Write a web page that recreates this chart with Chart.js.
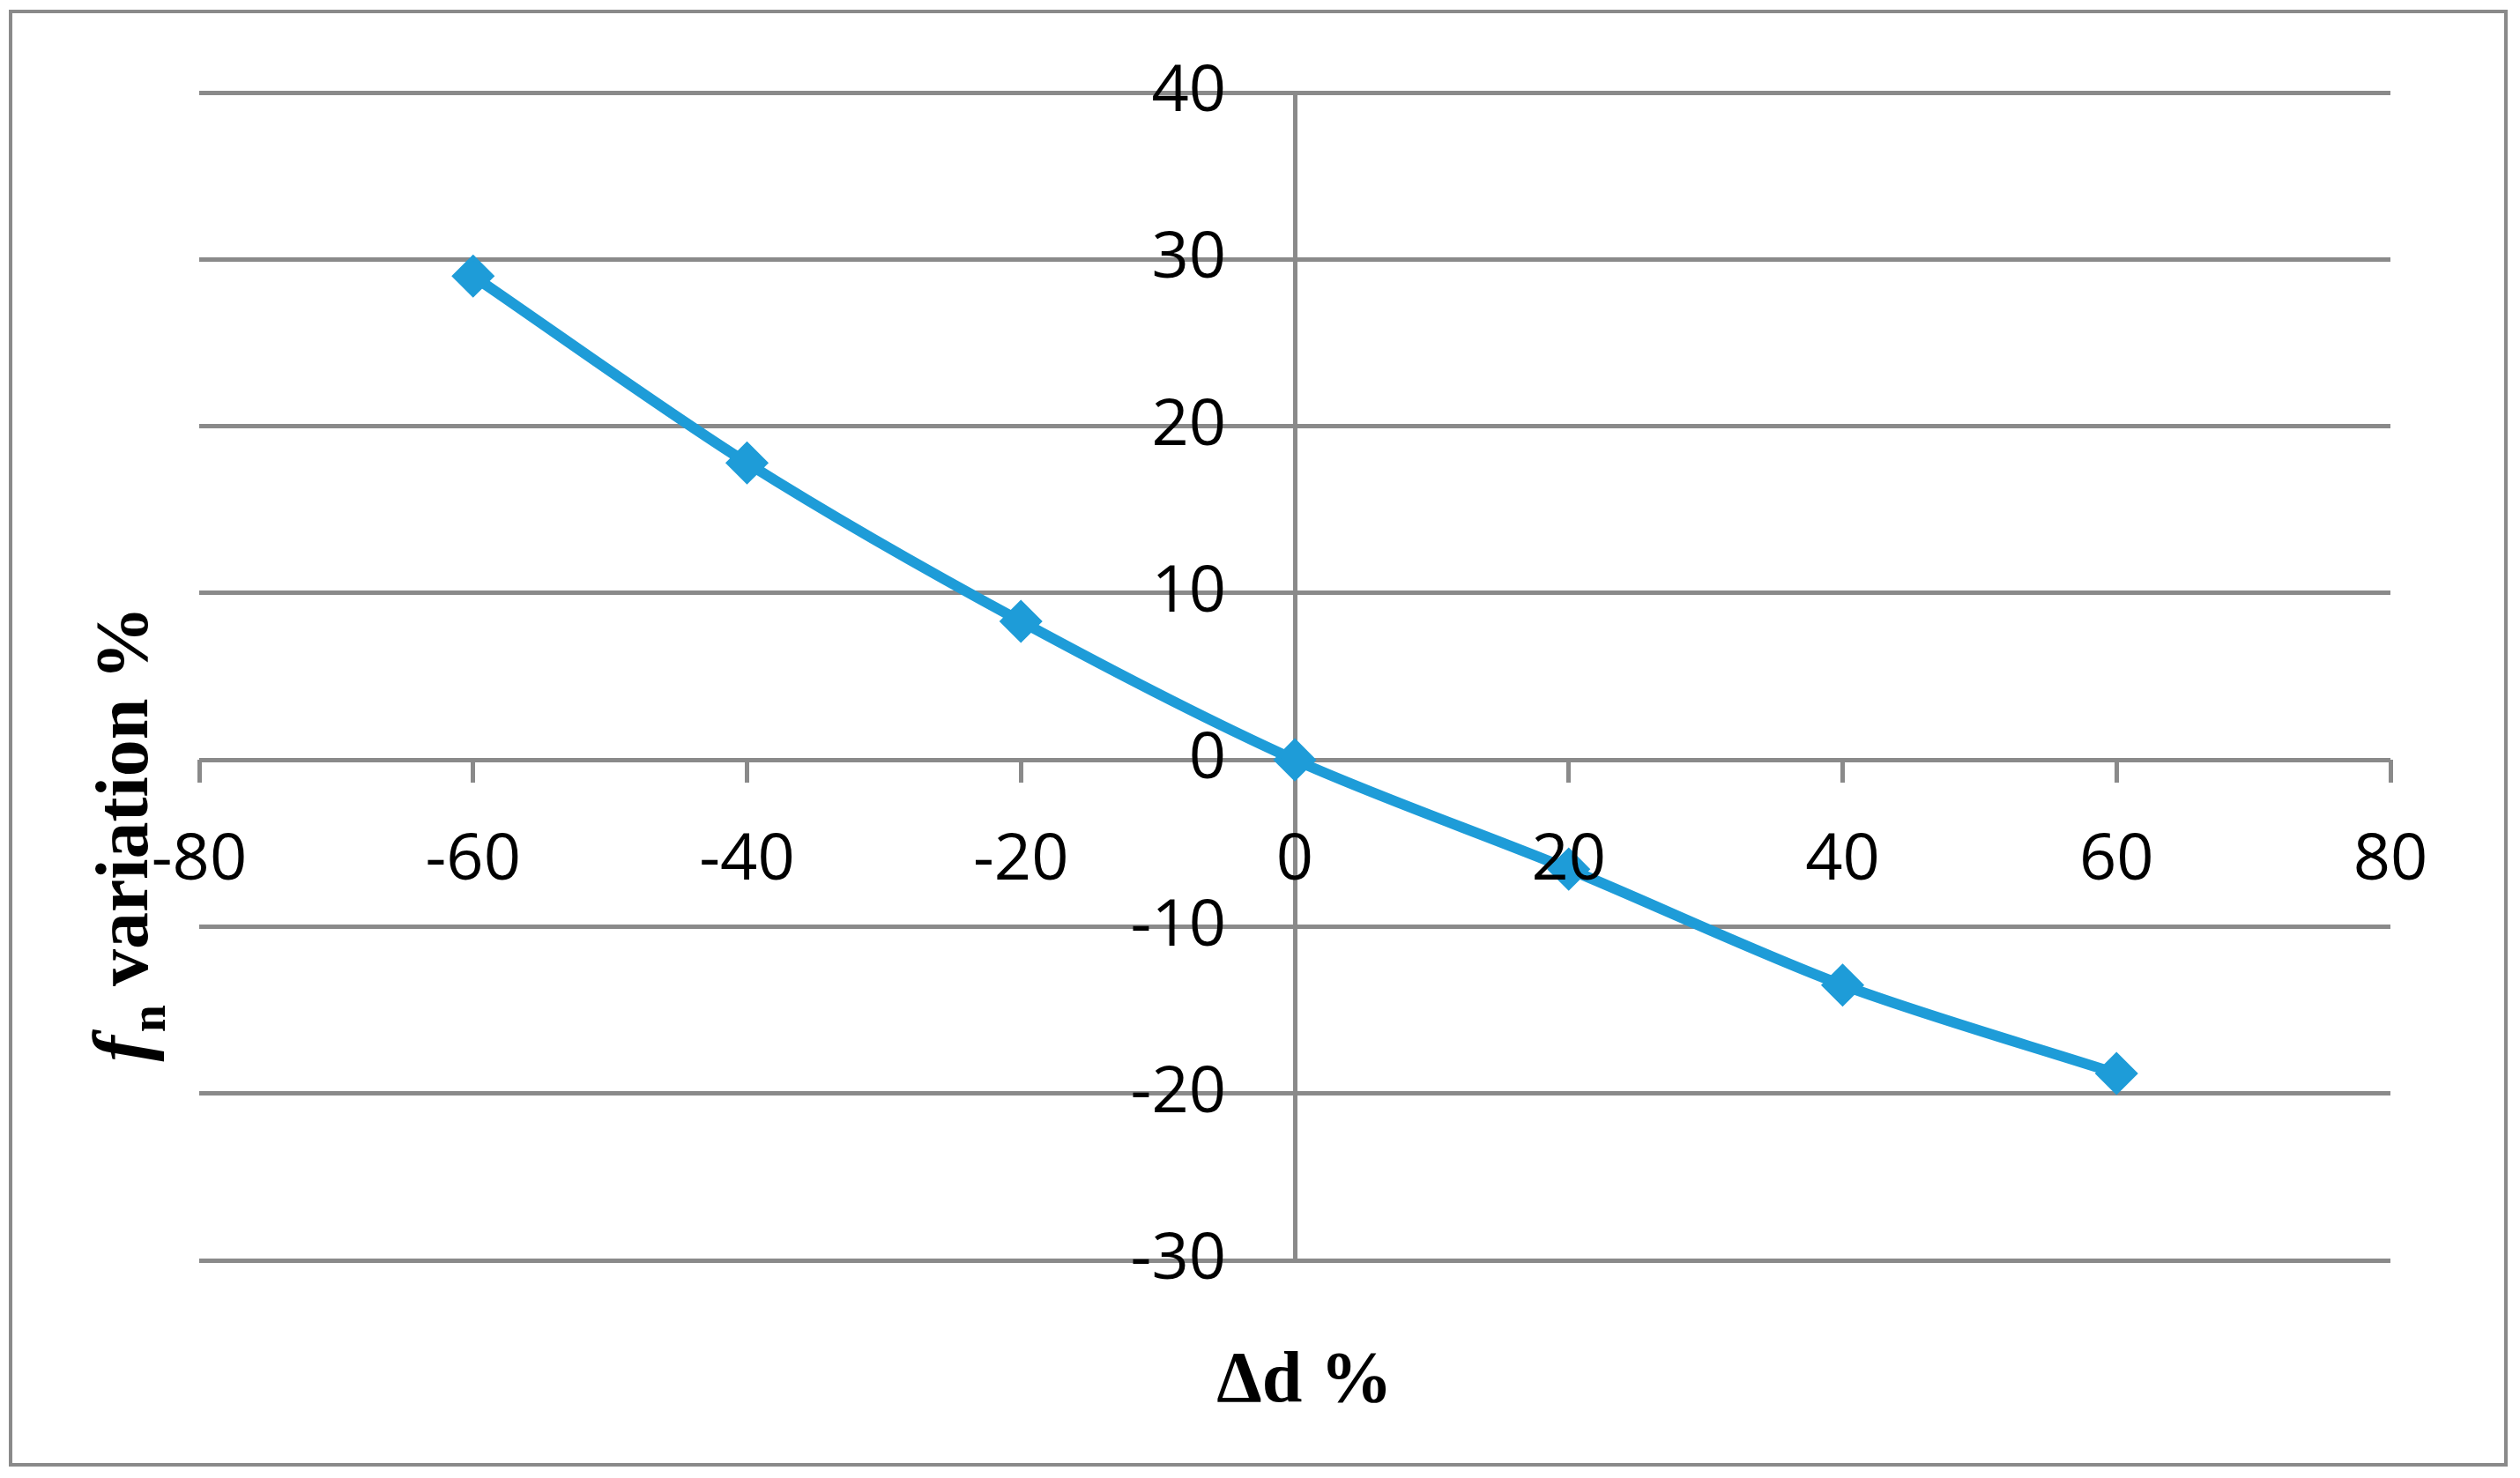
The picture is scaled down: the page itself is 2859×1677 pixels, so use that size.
<!DOCTYPE html>
<html>
<head>
<meta charset="utf-8">
<script src="https://cdn.jsdelivr.net/npm/chart.js@4.4.1/dist/chart.umd.min.js"></script>
<style>
  html, body { margin: 0; padding: 0; background: #ffffff; }
  #wrap { width: 2859px; height: 1677px; position: relative; }
</style>
</head>
<body>
<div id="wrap"><canvas id="c" width="2859" height="1677"></canvas></div>
<script>
// ---- data ----
const deltaD = [-60, -40, -20, 0, 20, 40, 60];
const fnVariation = [29.0, 17.8, 8.3, 0, -6.55, -13.5, -18.8];
const xTicks = [-80, -60, -40, -20, 0, 20, 40, 60, 80];
const yTicks = [-30, -20, -10, 0, 10, 20, 30, 40];
const xTitle = 'Δd %';
const yTitleF = 'f';
const yTitleSub = 'n';
const yTitleRest = ' variation %';

const GRID = '#8a8a8a';
const LINE = '#1e9cd8';
const TICK_FONT = { family: 'Open Sans', size: 74 };
// y tick labels sit 78px left of the vertical axis: 78px / (2486px / 160 units)
const Y_LABEL_AXIS_AT = -78 / (2486 / 160);

const points = deltaD.map((x, i) => ({ x: x, y: fnVariation[i] }));

const frame = {
  id: 'frame',
  beforeDraw(chart) {
    const ctx = chart.ctx;
    ctx.save();
    ctx.fillStyle = '#ffffff';
    ctx.fillRect(0, 0, chart.width, chart.height);
    ctx.strokeStyle = GRID;
    ctx.lineWidth = 4;
    ctx.strokeRect(12, 13, 2831, 1649);
    ctx.restore();
  },
  afterDraw(chart) {
    const ctx = chart.ctx;
    ctx.save();
    ctx.fillStyle = '#000000';
    // x title
    ctx.font = 'bold 82px "Liberation Serif"';
    ctx.textAlign = 'center';
    ctx.textBaseline = 'alphabetic';
    ctx.fillText(xTitle, 1480, 1590);
    // y title (rotated, with italic f and subscript n)
    const fFont = 'italic bold 88px "Liberation Serif"';
    const subFont = 'bold 56px "Liberation Serif"';
    const mainFont = 'bold 84px "Liberation Serif"';
    ctx.font = fFont; const wF = ctx.measureText(yTitleF).width;
    ctx.font = subFont; const wS = ctx.measureText(yTitleSub).width;
    ctx.font = mainFont; const wR = ctx.measureText(yTitleRest).width;
    const total = wF + 4 + wS + wR;
    ctx.translate(167, 946);
    ctx.rotate(-Math.PI / 2);
    ctx.textAlign = 'left';
    let x = -total / 2;
    ctx.font = fFont; ctx.fillText(yTitleF, x, 0); x += wF + 4;
    ctx.font = subFont; ctx.fillText(yTitleSub, x, 20); x += wS;
    ctx.font = mainFont; ctx.fillText(yTitleRest, x, 0);
    ctx.restore();
  }
};

new Chart(document.getElementById('c'), {
  type: 'line',
  data: {
    datasets: [{
      data: points,
      borderColor: LINE,
      backgroundColor: LINE,
      borderWidth: 12,
      tension: 0.3,
      pointStyle: 'rectRot',
      pointRadius: 21,
      pointBorderWidth: 5,
      pointBackgroundColor: LINE,
      pointBorderColor: LINE,
      fill: false
    }]
  },
  options: {
    responsive: false,
    animation: false,
    devicePixelRatio: 1,
    layout: { padding: { left: 226, right: 147, top: 105, bottom: 247 } },
    plugins: { legend: { display: false }, tooltip: { enabled: false }, title: { display: false } },
    scales: {
      x: {
        type: 'linear',
        position: { y: 0 },
        min: -80, max: 80,
        afterBuildTicks: (s) => { s.ticks = xTicks.map(v => ({ value: v })); },
        grid: { display: true, drawOnChartArea: false, drawTicks: true, tickLength: 26, tickWidth: 5, tickColor: GRID, color: GRID, lineWidth: 5 },
        border: { display: false },
        ticks: { z: 1, color: '#000000', font: TICK_FONT, padding: 44, maxRotation: 0, autoSkip: false }
      },
      y: {
        type: 'linear',
        position: { x: 0 },
        min: -30, max: 40,
        afterBuildTicks: (s) => { s.ticks = yTicks.map(v => ({ value: v })); },
        grid: { display: true, drawTicks: false, color: GRID, lineWidth: 5 },
        border: { display: true, color: GRID, width: 5 },
        ticks: { display: false }
      },
      yLabels: {
        type: 'linear',
        axis: 'y',
        position: { x: Y_LABEL_AXIS_AT },
        min: -30, max: 40,
        afterBuildTicks: (s) => { s.ticks = yTicks.map(v => ({ value: v })); },
        grid: { display: false, drawTicks: false },
        border: { display: false },
        ticks: { color: '#000000', font: TICK_FONT, padding: 0, autoSkip: false }
      }
    }
  },
  plugins: [frame]
});
</script>
</body>
</html>
